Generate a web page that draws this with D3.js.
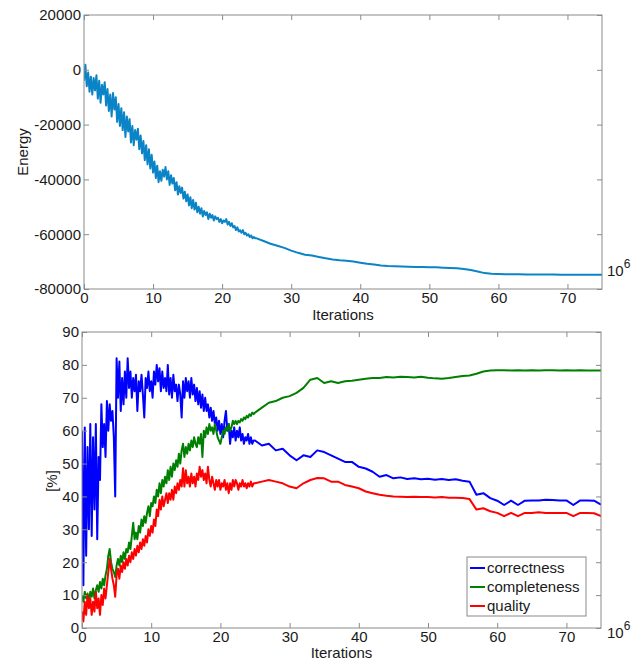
<!DOCTYPE html>
<html>
<head>
<meta charset="utf-8">
<script src="https://cdn.jsdelivr.net/npm/d3@7"></script>
<style>
  body { margin: 0; background: #fff; }
  #c { width: 643px; height: 661px; }
  text { font-family: "Liberation Sans", Arial, sans-serif; }
</style>
</head>
<body>
<div id="c"></div>
<script>
"use strict";

// iterations are in millions: fine sampling up to 25, then one value per million
const fineStep = 0.2
const coarseStep = 1

const xTicks = [0, 10, 20, 30, 40, 50, 60, 70]
const energyTicks = [20000, 0, -20000, -40000, -60000, -80000]
const percentTicks = [0, 10, 20, 30, 40, 50, 60, 70, 80, 90]

const energyFine = [
  -4000, 1800, -6000, -1000, -8000, -2500, -9000, -3000, -7500, -2000,
  -10500, -4000, -12000, -5500, -9000, -4500, -13000, -7000, -15000, -9000,
  -17000, -8500, -14500, -10000, -19000, -12500, -20500, -14000, -22000, -15500,
  -24500, -17000, -22500, -18000, -26500, -20500, -27500, -22000, -25500, -21500,
  -29000, -24000, -30500, -26000, -33000, -27500, -34500, -29000, -36000, -31000,
  -37500, -33500, -39500, -35000, -41000, -37000, -40500, -36500, -39000, -35500,
  -40000, -37000, -42000, -38500, -41500, -39500, -44000, -41000, -45500, -42500,
  -45000, -43000, -47000, -44500, -48000, -45500, -49500, -46500, -50500, -47500,
  -51000, -48500, -52000, -50000, -52500, -50500, -53500, -51500, -53000, -52000,
  -54500, -52500, -54000, -53000, -55000, -53500, -54500, -54000, -55500, -54500,
  -56000, -55000, -55500, -54500, -56500, -55500, -57000, -56000, -57500, -57000,
  -58500, -57500, -59000, -58500, -59500, -58500, -60000, -59500, -60500, -60000,
  -61000, -60500, -61500, -61000, -61500
]
const energyCoarse = [
  -61500, -62500, -63500, -64200, -65000, -66000, -66800, -67500, -67800, -68300,
  -68800, -69200, -69500, -69700, -70000, -70400, -70800, -71100, -71400, -71600,
  -71700, -71800, -71900, -72000, -72000, -72100, -72100, -72200, -72300, -72400,
  -72700, -73100, -73600, -74200, -74400, -74500, -74600, -74600, -74600, -74700,
  -74700, -74700, -74700, -74700, -74800, -74800, -74800, -74800, -74800, -74800,
  -74800
]

const correctnessFine = [
  60, 13, 61, 22, 55, 30, 62, 28, 58, 36,
  62, 27, 52, 45, 68, 55, 62, 52, 69, 60,
  68, 63, 66, 58, 40, 82, 70, 81, 66, 76,
  68, 78, 70, 82, 73, 78, 70, 76, 72, 77,
  66, 75, 72, 77, 71, 64, 76, 73, 78, 72,
  75, 70, 78, 74, 80, 75, 79, 72, 78, 73,
  76, 72, 80, 71, 76, 70, 77, 72, 74, 69,
  74, 71, 64, 75, 70, 76, 72, 75, 70, 76,
  71, 74, 69, 73, 68, 72, 67, 71, 66, 70,
  66, 68, 64, 67, 63, 66, 62, 64, 60, 63,
  59, 62, 58, 63, 66, 60, 62, 56, 60, 58,
  61, 57, 60, 58, 61, 57, 59, 56, 58, 57,
  59, 56, 58, 56, 57
]
const correctnessCoarse = [
  57, 55.5, 56, 54, 54.5, 52.5, 51, 52.5, 52, 54,
  53.5, 52.5, 51.5, 50.5, 50.5, 49, 48.5, 47.5, 46, 46.5,
  45.5, 45.8, 45.3, 45.5, 45.2, 45.4, 45.1, 45.3, 45, 45.2,
  44.8, 44.5, 40.5, 41, 39.5, 38.7, 37.4, 38.7, 37.4, 38.7,
  38.8, 38.8, 39, 38.9, 38.8, 38.8, 37.4, 38.8, 38.8, 38.7,
  37.5
]

const completenessFine = [
  10, 8, 11, 9, 10.5, 8, 11, 9.5, 12, 9,
  11.5, 13, 11, 14, 12, 15, 13, 16, 18, 22,
  24, 20, 18, 17, 15.5, 19, 21, 19, 22, 20,
  23, 21, 24, 23, 26, 24, 28, 32, 27, 29,
  27, 31, 29, 33, 31, 34, 32, 35, 37, 34,
  38, 37, 40, 38, 42, 40, 44, 41, 45, 43,
  46, 44, 48, 45, 49, 46, 50, 48, 51, 49,
  53, 50, 54, 56, 52, 55, 53, 56, 54, 57,
  55, 58, 56, 55, 58, 56, 59, 52, 60, 58,
  61, 59, 62, 60, 61, 59, 62, 60, 58, 57,
  56, 58, 60, 59, 61, 60, 62, 60, 61, 63,
  62, 63, 62, 63, 62.5, 63.5, 63, 64, 63.5, 64.5,
  64, 65, 64.5, 65.5, 65
]
const completenessCoarse = [
  65.5, 67, 68.5, 69, 70, 70.5, 71.5, 73, 75.5, 76,
  74.5, 75, 74.5, 75, 75.2, 75.5, 75.8, 76, 76, 76.3,
  76.2, 76.4, 76.3, 76.2, 76.4, 76.1, 75.9, 75.8, 76, 76.3,
  76.6, 76.8, 77.3, 78, 78.3, 78.4, 78.4, 78.3, 78.4, 78.3,
  78.4, 78.3, 78.4, 78.4, 78.3, 78.4, 78.3, 78.4, 78.3, 78.3,
  78.3
]

const qualityFine = [
  5, 2, 8, 4, 10, 6, 9, 4, 8, 5,
  11, 6, 9, 4, 10, 7, 12, 9, 13, 17,
  21, 18, 15, 13, 9.5, 16, 18, 15, 19, 17,
  20, 18, 21, 19, 22, 20, 23, 21, 24, 22,
  25, 23, 26, 24, 27, 25, 28, 26, 30, 28,
  31, 29, 33, 31, 36, 34, 39, 36, 40, 37,
  39, 41, 38, 41, 39, 42, 39, 43, 41, 44,
  42, 45, 43, 48.6, 43, 48, 44, 46, 43, 47,
  44, 46, 43, 47, 45, 49, 46, 48, 45, 47,
  44, 49, 45, 43, 46, 44, 42, 45, 43, 45,
  42, 44, 43, 45, 42, 44, 41, 44, 42, 45,
  43, 45, 44, 42, 44, 43, 45, 43, 44, 42.5,
  44, 43, 44.5, 43, 44
]
const qualityCoarse = [
  44, 44.5, 45, 44.5, 44, 43, 42.5, 44, 45, 45.6,
  45.5, 44.5, 44.5, 43.5, 43, 42.5, 41.5, 41, 40.5, 40.2,
  40, 39.9, 39.8, 39.9, 39.8, 39.8, 39.7, 39.8, 39.6, 39.6,
  39.5, 39.2, 36, 36.4, 35.5, 35, 34, 35, 34, 35,
  35, 35.2, 35, 35, 35, 35, 34, 35, 35, 34.9,
  34
]

const seriesNames = ["correctness", "completeness", "quality"]
const seriesColors = ["#0000ff", "#008000", "#ff0000"]

let svg

window.onload = function() {
    svg = d3.select('#c').append('svg')
        .attr('width', 643)
        .attr('height', 661)
    svg.append('rect').attr('width', 643).attr('height', 661).attr('fill', '#fff')
    drawEnergy()
    drawPercent()
}

function toPoints(fine, coarse) {
    let start = fine.length * fineStep
    return fine.map((v, i) => ({x: i * fineStep, y: v}))
        .concat(coarse.map((v, i) => ({x: start + i * coarseStep, y: v})))
}

function drawFrame(g, xScale, yScale, yTicks, width, height) {
    const tick = 5
    const axisColor = '#8a8a8a'
    // bottom and left with labels, ticks pointing inwards
    let bx = g.append('g')
        .attr('transform', 'translate(0,' + height + ')')
        .call(d3.axisBottom(xScale).tickValues(xTicks).tickFormat(d => String(d))
            .tickSizeInner(-tick).tickSizeOuter(0).tickPadding(3))
    let ly = g.append('g')
        .call(d3.axisLeft(yScale).tickValues(yTicks).tickFormat(d => String(d))
            .tickSizeInner(-tick).tickSizeOuter(0).tickPadding(3))
    // top and right, ticks only
    let tx = g.append('g')
        .call(d3.axisTop(xScale).tickValues(xTicks)
            .tickSizeInner(-tick).tickSizeOuter(0).tickFormat(''))
    let ry = g.append('g')
        .attr('transform', 'translate(' + width + ',0)')
        .call(d3.axisRight(yScale).tickValues(yTicks)
            .tickSizeInner(-tick).tickSizeOuter(0).tickFormat(''))
    ;[bx, ly, tx, ry].forEach(a => {
        a.select('.domain').remove()
        a.selectAll('line').attr('stroke', axisColor)
        a.selectAll('text')
            .attr('fill', '#1a1a1a')
            .style('font-size', '15px')
            .style('font-family', '"Liberation Sans", Arial, sans-serif')
    })
    g.append('rect')
        .attr('width', width).attr('height', height)
        .attr('fill', 'none')
        .attr('stroke', axisColor)
        .attr('stroke-width', 1)
}

function addExponent(x, y) {
    let t = svg.append('text')
        .attr('x', x).attr('y', y)
        .style('font-size', '15px')
        .attr('fill', '#1a1a1a')
    t.append('tspan').text('10')
    t.append('tspan').attr('dy', -8).style('font-size', '12px').text('6')
}

function drawEnergy() {
    const margin = {top: 15, left: 84}
    const width = 518
    const height = 274
    let g = svg.append('g')
        .attr('transform', 'translate(' + margin.left + ',' + margin.top + ')')

    let xScale = d3.scaleLinear().domain([0, 75]).range([0, width])
    let yScale = d3.scaleLinear().domain([-80000, 20000]).range([height, 0])

    g.append('clipPath').attr('id', 'clipTop')
        .append('rect').attr('width', width).attr('height', height)

    g.append('path')
        .datum(toPoints(energyFine, energyCoarse))
        .attr('clip-path', 'url(#clipTop)')
        .attr('fill', 'none')
        .attr('stroke', '#0a84c6')
        .attr('stroke-width', 2)
        .attr('stroke-linejoin', 'round')
        .attr('d', d3.line().x(d => xScale(d.x)).y(d => yScale(d.y)))

    drawFrame(g, xScale, yScale, energyTicks, width, height)

    g.append('text')
        .attr('x', width / 2).attr('y', height + 31)
        .attr('text-anchor', 'middle')
        .style('font-size', '15px')
        .attr('fill', '#1a1a1a')
        .text('Iterations')
    g.append('text')
        .attr('transform', 'translate(' + (28 - margin.left) + ',' + (152 - margin.top) + ') rotate(-90)')
        .attr('text-anchor', 'middle')
        .style('font-size', '15px')
        .attr('fill', '#1a1a1a')
        .text('Energy')

    addExponent(607, 276)
}

function drawPercent() {
    const margin = {top: 332, left: 82}
    const width = 519
    const height = 296
    let g = svg.append('g')
        .attr('transform', 'translate(' + margin.left + ',' + margin.top + ')')

    let xScale = d3.scaleLinear().domain([0, 75]).range([0, width])
    let yScale = d3.scaleLinear().domain([0, 90]).range([height, 0])

    g.append('clipPath').attr('id', 'clipBottom')
        .append('rect').attr('width', width).attr('height', height)

    let series = [
        toPoints(correctnessFine, correctnessCoarse),
        toPoints(completenessFine, completenessCoarse),
        toPoints(qualityFine, qualityCoarse)
    ]
    let line = d3.line().x(d => xScale(d.x)).y(d => yScale(d.y))
    series.forEach((s, i) => {
        g.append('path')
            .datum(s)
            .attr('clip-path', 'url(#clipBottom)')
            .attr('fill', 'none')
            .attr('stroke', seriesColors[i])
            .attr('stroke-width', 2)
            .attr('stroke-linejoin', 'round')
            .attr('d', line)
    })

    drawFrame(g, xScale, yScale, percentTicks, width, height)

    g.append('text')
        .attr('x', width / 2).attr('y', height + 30)
        .attr('text-anchor', 'middle')
        .style('font-size', '15px')
        .attr('fill', '#1a1a1a')
        .text('Iterations')
    g.append('text')
        .attr('transform', 'translate(' + (57 - margin.left) + ',' + (481 - margin.top) + ') rotate(-90)')
        .attr('text-anchor', 'middle')
        .style('font-size', '15px')
        .attr('fill', '#1a1a1a')
        .text('[%]')

    // legend
    let legend = g.append('g')
        .attr('transform', 'translate(' + (467 - margin.left) + ',' + (557 - margin.top) + ')')
    legend.append('rect')
        .attr('width', 119).attr('height', 59)
        .attr('fill', '#fff')
        .attr('stroke', '#8a8a8a')
    seriesNames.forEach((name, i) => {
        let row = legend.append('g')
            .attr('transform', 'translate(0,' + (11 + i * 19) + ')')
        row.append('line')
            .attr('x1', 3).attr('x2', 18)
            .attr('stroke', seriesColors[i])
            .attr('stroke-width', 2)
        row.append('text')
            .attr('x', 20).attr('y', 0)
            .attr('dy', '0.35em')
            .style('font-size', '15px')
            .attr('fill', '#1a1a1a')
            .text(name)
    })

    addExponent(607, 638)
}
</script>
</body>
</html>
